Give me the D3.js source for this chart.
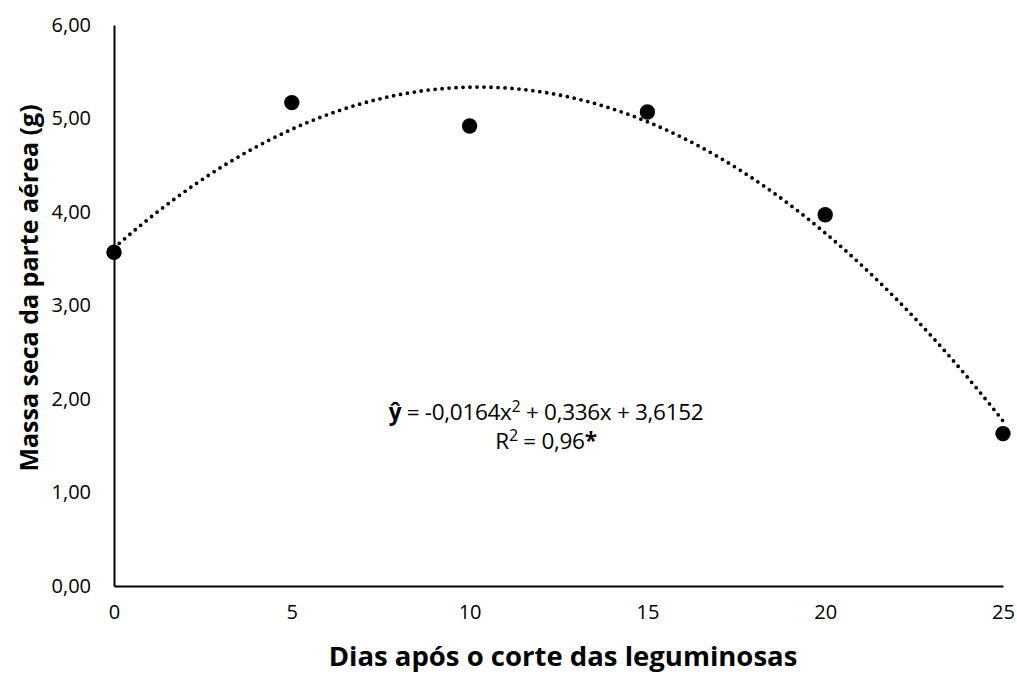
<!DOCTYPE html>
<html><head><meta charset="utf-8">
<script src="https://cdn.jsdelivr.net/npm/d3@7"></script>
<style>body{margin:0;background:#fff}svg{display:block}text{font-family:"Open Sans",sans-serif}</style>
</head><body>
<svg id="c" width="1017" height="675"></svg>
<script>
const days = [0, 5, 10, 15, 20, 25];
const massa = [3.57, 5.17, 4.92, 5.07, 3.97, 1.63];
const coef = [-0.0164, 0.336, 3.6152]; // a, b, c
const xTicks = [0, 5, 10, 15, 20, 25];
const yTicks = [0, 1, 2, 3, 4, 5, 6];
const eqParts = ["ŷ", " = -0,0164x", "2", " + 0,336x + 3,6152"];
const r2Parts = ["R", "2", " = 0,96", "*"];

const svg = d3.select("#c");
const x = d3.scaleLinear().domain([0, 25]).range([114, 1003]);
const y = d3.scaleLinear().domain([0, 6]).range([586, 25]);
const fmt = v => d3.format(".2f")(v).replace(".", ",");

// axes
const yAxis = svg.append("g").attr("transform", "translate(114,0)")
  .call(d3.axisLeft(y).tickValues(yTicks).tickFormat(fmt).tickSize(0).tickPadding(23));
const xAxis = svg.append("g").attr("transform", "translate(0,586)")
  .call(d3.axisBottom(x).tickValues(xTicks).tickFormat(d3.format("d")).tickSize(0).tickPadding(19));
[yAxis, xAxis].forEach(g => {
  g.select(".domain").attr("stroke", "#000").attr("stroke-width", 2);
  g.selectAll("text").attr("font-size", 20).attr("fill", "#000").attr("font-family", "'Open Sans', sans-serif");
});

// trendline
const xs = d3.range(0, 25.001, 0.1);
const f = v => coef[0] * v * v + coef[1] * v + coef[2];
svg.append("path")
  .attr("d", d3.line().x(d => x(d)).y(d => y(f(d)))(xs))
  .attr("fill", "none").attr("stroke", "#000").attr("stroke-width", 3.8)
  .attr("stroke-linecap", "round").attr("stroke-dasharray", "0 7");

// points
svg.selectAll("circle.pt").data(days).join("circle").attr("class", "pt")
  .attr("cx", d => x(d)).attr("cy", (d, i) => y(massa[i])).attr("r", 7.7).attr("fill", "#000");

// equation
const t1 = svg.append("text").attr("x", 546).attr("y", 420).attr("text-anchor", "middle")
  .attr("font-size", 22.5).attr("letter-spacing", "-0.3");
t1.append("tspan").attr("font-weight", "bold").text(eqParts[0]);
t1.append("tspan").text(eqParts[1]);
t1.append("tspan").attr("font-size", 16).attr("dy", -8).text(eqParts[2]);
t1.append("tspan").attr("dy", 8).text(eqParts[3]);
const t2 = svg.append("text").attr("x", 546).attr("y", 449).attr("text-anchor", "middle")
  .attr("font-size", 22.5).attr("letter-spacing", "-0.3");
t2.append("tspan").text(r2Parts[0]);
t2.append("tspan").attr("font-size", 16).attr("dy", -8).text(r2Parts[1]);
t2.append("tspan").attr("dy", 8).text(r2Parts[2]);
t2.append("tspan").attr("font-weight", "bold").text(r2Parts[3]);

// axis titles
svg.append("text").attr("x", 563).attr("y", 666).attr("text-anchor", "middle")
  .attr("font-size", 27.5).attr("font-weight", "bold").text("Dias após o corte das leguminosas");
svg.append("text").attr("transform", "translate(38,288) rotate(-90)").attr("text-anchor", "middle")
  .attr("font-size", 25).attr("font-weight", "bold").text("Massa seca da parte aérea (g)");
</script>
</body></html>
